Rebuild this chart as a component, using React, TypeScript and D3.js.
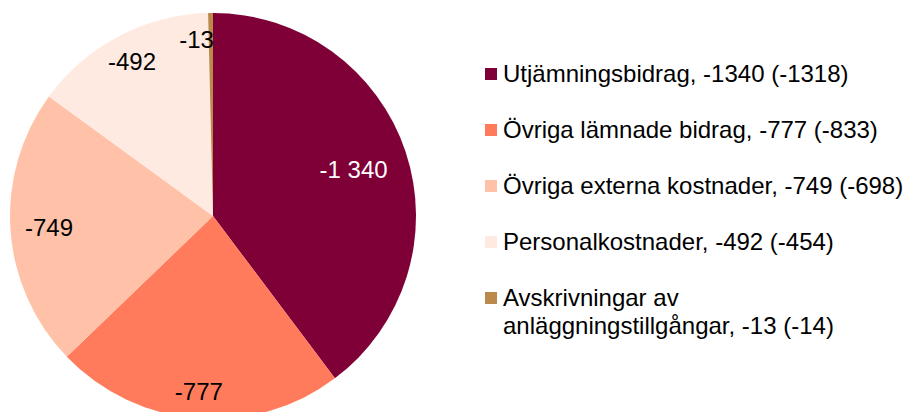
import { useEffect, useRef } from 'react';
import * as d3 from 'd3';

const categories = [
  'Utjämningsbidrag',
  'Övriga lämnade bidrag',
  'Övriga externa kostnader',
  'Personalkostnader',
  'Avskrivningar av anläggningstillgångar',
];
const values = [-1340, -777, -749, -492, -13];
const previous = [-1318, -833, -698, -454, -14];
const sliceLabels = ['-1 340', '-777', '-749', '-492', '-13'];
const legendLines = [
  ['Utjämningsbidrag, -1340 (-1318)'],
  ['Övriga lämnade bidrag, -777 (-833)'],
  ['Övriga externa kostnader, -749 (-698)'],
  ['Personalkostnader, -492 (-454)'],
  ['Avskrivningar av', 'anläggningstillgångar, -13 (-14)'],
];
const colors = ['#7f0037', '#ff7b5c', '#ffc2a8', '#ffeae2', '#b98a4a'];

export default function App() {
  const ref = useRef<SVGSVGElement>(null);

  useEffect(() => {
    const width = 905, height = 412;
    const cx = 213, cy = 216, radius = 203;
    const svg = d3.select(ref.current);
    svg.selectAll('*').remove();
    svg.attr('width', width).attr('height', height);

    const data = categories.map((c, i) => ({ c, v: Math.abs(values[i]), prev: previous[i], i }));
    const pie = d3.pie<any>().value(d => d.v).sort(null);
    const arc = d3.arc<any>().innerRadius(0).outerRadius(radius);
    const arcs = pie(data);

    const g = svg.append('g').attr('transform', `translate(${cx},${cy})`);
    g.selectAll('path')
      .data(arcs)
      .join('path')
      .attr('d', arc)
      .attr('fill', d => colors[d.data.i]);

    const labelFactor = [0.73, 0.87, 0.81, 0.86, 0.87];
    g.selectAll('text')
      .data(arcs)
      .join('text')
      .attr('transform', d => {
        const a = (d.startAngle + d.endAngle) / 2;
        const r = radius * labelFactor[d.data.i];
        const small = d.endAngle - d.startAngle < 0.1;
        return `translate(${Math.sin(a) * r + (small ? 3 : 0)},${-Math.cos(a) * r})`;
      })
      .attr('text-anchor', d => (d.endAngle - d.startAngle < 0.1 ? 'end' : 'middle'))
      .attr('dy', '0.35em')
      .attr('font-family', 'Liberation Sans, Arial, sans-serif')
      .attr('font-size', 24)
      .attr('fill', d => (d.data.i === 0 ? '#ffffff' : '#000000'))
      .text(d => sliceLabels[d.data.i]);

    const rowY = d3.scalePoint<number>().domain(d3.range(categories.length)).range([74, 298]);
    const legend = svg.append('g').attr('font-family', 'Liberation Sans, Arial, sans-serif').attr('font-size', 24);
    categories.forEach((_, i) => {
      const y = rowY(i)!;
      legend.append('rect')
        .attr('x', 485).attr('y', y - 6)
        .attr('width', 12).attr('height', 12)
        .attr('fill', colors[i]);
      legendLines[i].forEach((line, j) => {
        legend.append('text')
          .attr('x', 503).attr('y', y + j * 28)
          .attr('dy', '0.35em')
          .attr('fill', '#000')
          .text(line);
      });
    });
  }, []);

  return <svg ref={ref} style={{ position: 'absolute', left: 0, top: 0 }}></svg>;
}
